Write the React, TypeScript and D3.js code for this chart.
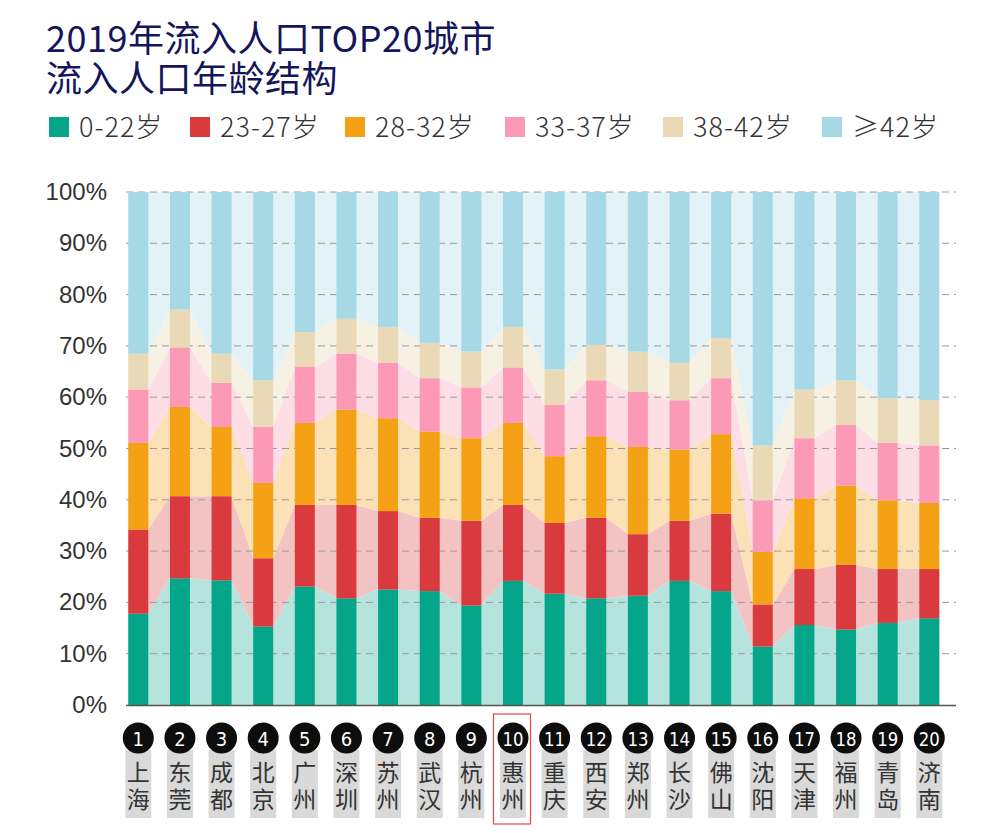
import React from "react";
import * as d3 from "d3";

const cities = ["上海","东莞","成都","北京","广州","深圳","苏州","武汉","杭州","惠州","重庆","西安","郑州","长沙","佛山","沈阳","天津","福州","青岛","济南"];
const seriesNames = ["0-22岁","23-27岁","28-32岁","33-37岁","38-42岁","≥42岁"];
const age0_22 = [17.8,24.7,24.3,15.3,23.1,20.8,22.5,22.2,19.4,24.2,21.7,20.8,21.3,24.2,22.2,11.4,15.6,14.7,16.0,16.9];
const age23_27 = [16.4,16.0,16.4,13.3,15.9,18.2,15.3,14.3,16.5,14.8,13.8,15.7,12.0,11.7,15.1,8.2,10.9,12.6,10.5,9.6];
const age28_32 = [16.9,17.4,13.5,14.7,16.0,18.6,18.1,16.8,16.1,16.0,13.0,15.9,17.0,13.9,15.5,10.3,13.8,15.5,13.4,12.9];
const age33_37 = [10.4,11.6,8.6,10.9,10.9,10.9,10.8,10.4,9.9,10.8,10.0,10.9,10.8,9.6,10.9,10.0,11.7,11.8,11.2,11.2];
const age38_42 = [7.0,7.4,5.7,9.1,6.8,6.8,7.0,6.9,7.0,7.9,6.9,6.9,7.8,7.3,7.8,10.7,9.5,8.7,8.7,8.8];
const age42plus = cities.map((_, i) => 100 - age0_22[i] - age23_27[i] - age28_32[i] - age33_37[i] - age38_42[i]);
const yTicks = [0,10,20,30,40,50,60,70,80,90,100];
const highlightCity = "惠州";

const barColors = ["#05A58A","#D93A3D","#F5A115","#FB99B6","#E9D9B6","#A7D8E5"];
const lightColors = ["#B5E3DD","#F3C3C4","#FCE1B6","#FDDDE6","#F7F1E4","#E2F2F6"];
const legendX = [49,190,345,505,663,822];

const W = 1000, H = 833;
const plotLeft = 128.3, plotRight = 939.3;
const yTop = 192, yBottom = 705;

export default function App() {
  const seriesArrays = [age0_22, age23_27, age28_32, age33_37, age38_42, age42plus];
  const rows = cities.map((c, i) => {
    const r: any = { city: c };
    seriesNames.forEach((s, k) => (r[s] = seriesArrays[k][i]));
    return r;
  });
  const stacked = d3.stack<any>().keys(seriesNames)(rows);

  const x = d3.scaleBand<string>().domain(cities).range([plotLeft, plotRight]).paddingInner(0.52).paddingOuter(0);
  const y = d3.scaleLinear().domain([0, 100]).range([yBottom, yTop]);
  const bw = x.bandwidth();

  const area = d3
    .area<{ px: number; y0: number; y1: number }>()
    .x((d) => d.px)
    .y0((d) => y(d.y0))
    .y1((d) => y(d.y1));

  const titleFont = "'Noto Sans CJK SC', 'Noto Sans', sans-serif";

  return (
    <svg width={W} height={H} style={{ position: "absolute", left: 0, top: 0, background: "#fff" }}>
      <rect width={W} height={H} fill="#fff" />
      {/* Title */}
      <text x={46} y={52} fontFamily={titleFont} fontSize={36} fontWeight={400} fill="#14155A" letterSpacing={0.5}>
        2019年流入人口TOP20城市
      </text>
      <text x={46} y={92} fontFamily={titleFont} fontSize={36} fontWeight={400} fill="#14155A" letterSpacing={0.5}>
        流入人口年龄结构
      </text>
      {/* Legend */}
      {seriesNames.map((s, k) => (
        <g key={s} transform={`translate(${legendX[k]},0)`}>
          <rect x={0} y={117} width={20} height={20} fill={barColors[k]} />
          <text x={30} y={137} fontFamily={titleFont} fontSize={27} fontWeight={300} letterSpacing={1} fill="#333">
            {s}
          </text>
        </g>
      ))}
      {/* light areas */}
      {stacked.map((layer, k) => {
        const pts: { px: number; y0: number; y1: number }[] = [];
        layer.forEach((d: any) => {
          const x0 = x(d.data.city) as number;
          pts.push({ px: x0, y0: d[0], y1: d[1] });
          pts.push({ px: x0 + bw, y0: d[0], y1: d[1] });
        });
        return <path key={k} d={area(pts) || ""} fill={lightColors[k]} />;
      })}
      {/* gridlines */}
      {yTicks.filter((t) => t > 0).map((t) => (
        <line key={t} x1={126} x2={956} y1={y(t)} y2={y(t)} stroke="#9a9a9a" strokeWidth={1} strokeDasharray="7,5" />
      ))}
      {/* bars */}
      {stacked.map((layer, k) =>
        layer.map((d: any) => (
          <rect
            key={k + "-" + d.data.city}
            x={x(d.data.city)}
            y={y(d[1])}
            width={bw}
            height={y(d[0]) - y(d[1])}
            fill={barColors[k]}
          />
        ))
      )}
      {/* axis line */}
      <line x1={126} x2={956} y1={yBottom + 0.5} y2={yBottom + 0.5} stroke="#555" strokeWidth={1.5} />
      {/* y tick labels */}
      {yTicks.map((t) => (
        <text
          key={t}
          x={107}
          y={y(t) + 8}
          textAnchor="end"
          fontFamily="'Liberation Sans', Arial, sans-serif"
          fontSize={24}
          fill="#333"
        >
          {t}%
        </text>
      ))}
      {/* x labels */}
      {cities.map((c, i) => {
        const cx = (x(c) as number) + bw / 2;
        const num = String(i + 1);
        return (
          <g key={c}>
            <rect x={cx - 13} y={750} width={26} height={68} fill="#D9D9D9" />
            <circle cx={cx} cy={738} r={15.5} fill="#0d0d0d" />
            <text
              x={cx}
              y={745.5}
              textAnchor="middle"
              fontFamily="'DejaVu Sans Condensed', 'Liberation Sans Narrow', 'Roboto', sans-serif"
              fontSize={20}
              fill="#fff"
              {...(num.length > 1 ? { textLength: 21, lengthAdjust: "spacingAndGlyphs" } : {})}
            >
              {num}
            </text>
            <text textAnchor="middle" fontFamily={titleFont} fontSize={23} fill="#333">
              <tspan x={cx} y={781}>{c[0]}</tspan>
              <tspan x={cx} y={808}>{c[1]}</tspan>
            </text>
            {c === highlightCity && (
              <rect x={cx - 19.5} y={714} width={37} height={110} fill="none" stroke="#E8453C" strokeWidth={1.2} />
            )}
          </g>
        );
      })}
    </svg>
  );
}
